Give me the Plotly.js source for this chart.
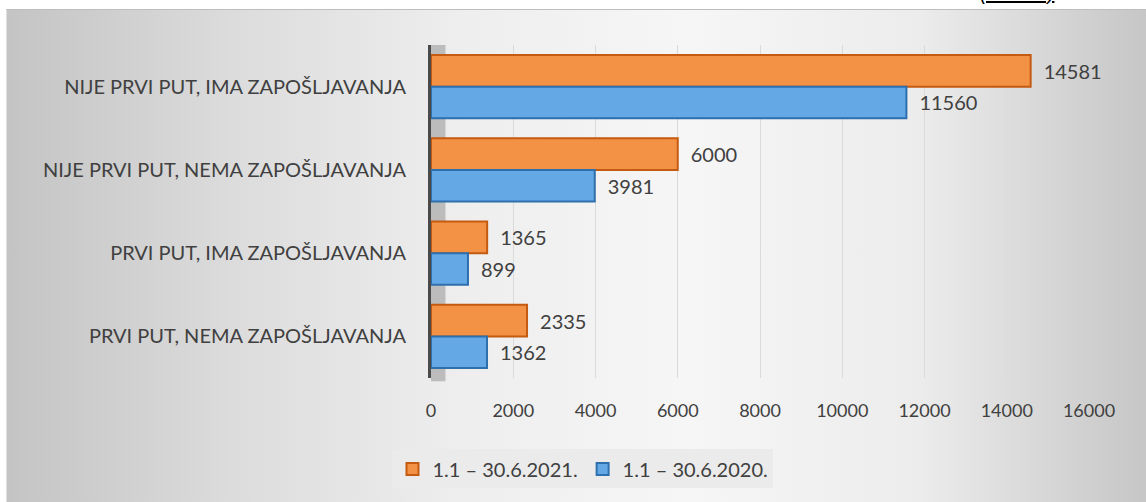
<!DOCTYPE html>
<html>
<head>
<meta charset="utf-8">
<script src="https://cdn.plot.ly/plotly-3.0.1.min.js"></script>
<style>
  html, body { margin: 0; padding: 0; background: #ffffff; }
  #bg { position: absolute; left: 6px; top: 9px; width: 1140px; height: 493px;
        border-top: 1px solid #bdbdbd; border-left: 1px solid #e0e0e0;
        background: linear-gradient(to right, #c4c4c4 0%, #dcdcdc 20%, #eeeeee 40%, #f6f6f6 60%, #ececec 80%, #c6c6c6 100%); }
  #chart { position: absolute; left: 0; top: 0; width: 1146px; height: 502px; }
</style>
</head>
<body>
<div id="bg"></div>
<div id="chart"></div>
<script>
const categories = [
  "NIJE PRVI PUT, IMA ZAPOŠLJAVANJA",
  "NIJE PRVI PUT, NEMA ZAPOŠLJAVANJA",
  "PRVI PUT, IMA ZAPOŠLJAVANJA",
  "PRVI PUT, NEMA ZAPOŠLJAVANJA"
];
const series2021Name = "1.1 – 30.6.2021.";
const series2020Name = "1.1 – 30.6.2020.";
const values2021 = [14581, 6000, 1365, 2335];
const values2020 = [11560, 3981, 899, 1362];
const xTickValues = [0, 2000, 4000, 6000, 8000, 10000, 12000, 14000, 16000];
const xTickLabels = ["0", "2000", "4000", "6000", "8000", "10000", "12000", "14000", "16000"];
const captionText = "(Graf. 7)";

const FONT = "Lato, 'Open Sans', sans-serif";
const catFont = { family: FONT, size: 20, color: "#404040" };
const valFont = { family: FONT, size: 20, color: "#404040" };
const tickFont = { family: FONT, size: 18, color: "#404040" };
const legFont = { family: FONT, size: 20, color: "#404040" };

const traces = [
  {
    type: "bar", orientation: "h", name: series2021Name,
    y: categories, x: values2021,
    texttemplate: "\u2002%{x:d}", textposition: "outside", cliponaxis: false,
    textfont: valFont,
    marker: { color: "#f39145", line: { color: "#c55a11", width: 2 } },
    hoverinfo: "x+name"
  },
  {
    type: "bar", orientation: "h", name: series2020Name,
    y: categories, x: values2020,
    texttemplate: "\u2002%{x:d}", textposition: "outside", cliponaxis: false,
    textfont: valFont,
    marker: { color: "#64a8e6", line: { color: "#2e6fae", width: 2 } },
    hoverinfo: "x+name"
  }
];

const layout = {
  width: 1146, height: 502,
  margin: { l: 431, r: 57, t: 45, b: 124 },
  paper_bgcolor: "rgba(0,0,0,0)",
  plot_bgcolor: "rgba(0,0,0,0)",
  barmode: "group",
  bargap: 0.24,
  bargroupgap: 0.0,
  font: catFont,
  showlegend: true,
  legend: {
    orientation: "h", xanchor: "center", yanchor: "middle",
    x: 0.231, y: -0.273,
    bgcolor: "#ebebeb", borderwidth: 0,
    font: legFont, itemwidth: 30, traceorder: "normal"
  },
  xaxis: {
    range: [0, 16000], tickvals: xTickValues, ticktext: xTickLabels,
    showgrid: true, gridcolor: "#dadada", gridwidth: 1,
    zeroline: false, showline: false, ticks: "",
    ticklabelstandoff: 20,
    tickfont: tickFont, fixedrange: true
  },
  yaxis: {
    type: "category", autorange: "reversed",
    showline: true, linecolor: "#4a4a4a", linewidth: 3,
    ticks: "", ticklabelstandoff: 18,
    showgrid: false, zeroline: false,
    tickfont: catFont, fixedrange: true
  },
  shapes: [
    { type: "rect", xref: "paper", yref: "paper", x0: 0, x1: 0.022, y0: -0.01, y1: 1.0,
      fillcolor: "rgba(150,150,150,0.55)", line: { width: 0 }, layer: "below" }
  ],
  annotations: [
    { xref: "paper", yref: "paper", x: 0.89, y: 1.117, xanchor: "center", yanchor: "bottom",
      text: "<i><u>" + captionText + "</u></i>", showarrow: false,
      font: { family: "Liberation Sans, Arial, sans-serif", size: 20, color: "#000000" } }
  ]
};

Plotly.newPlot("chart", traces, layout, { displayModeBar: false, staticPlot: true });
</script>
</body>
</html>
